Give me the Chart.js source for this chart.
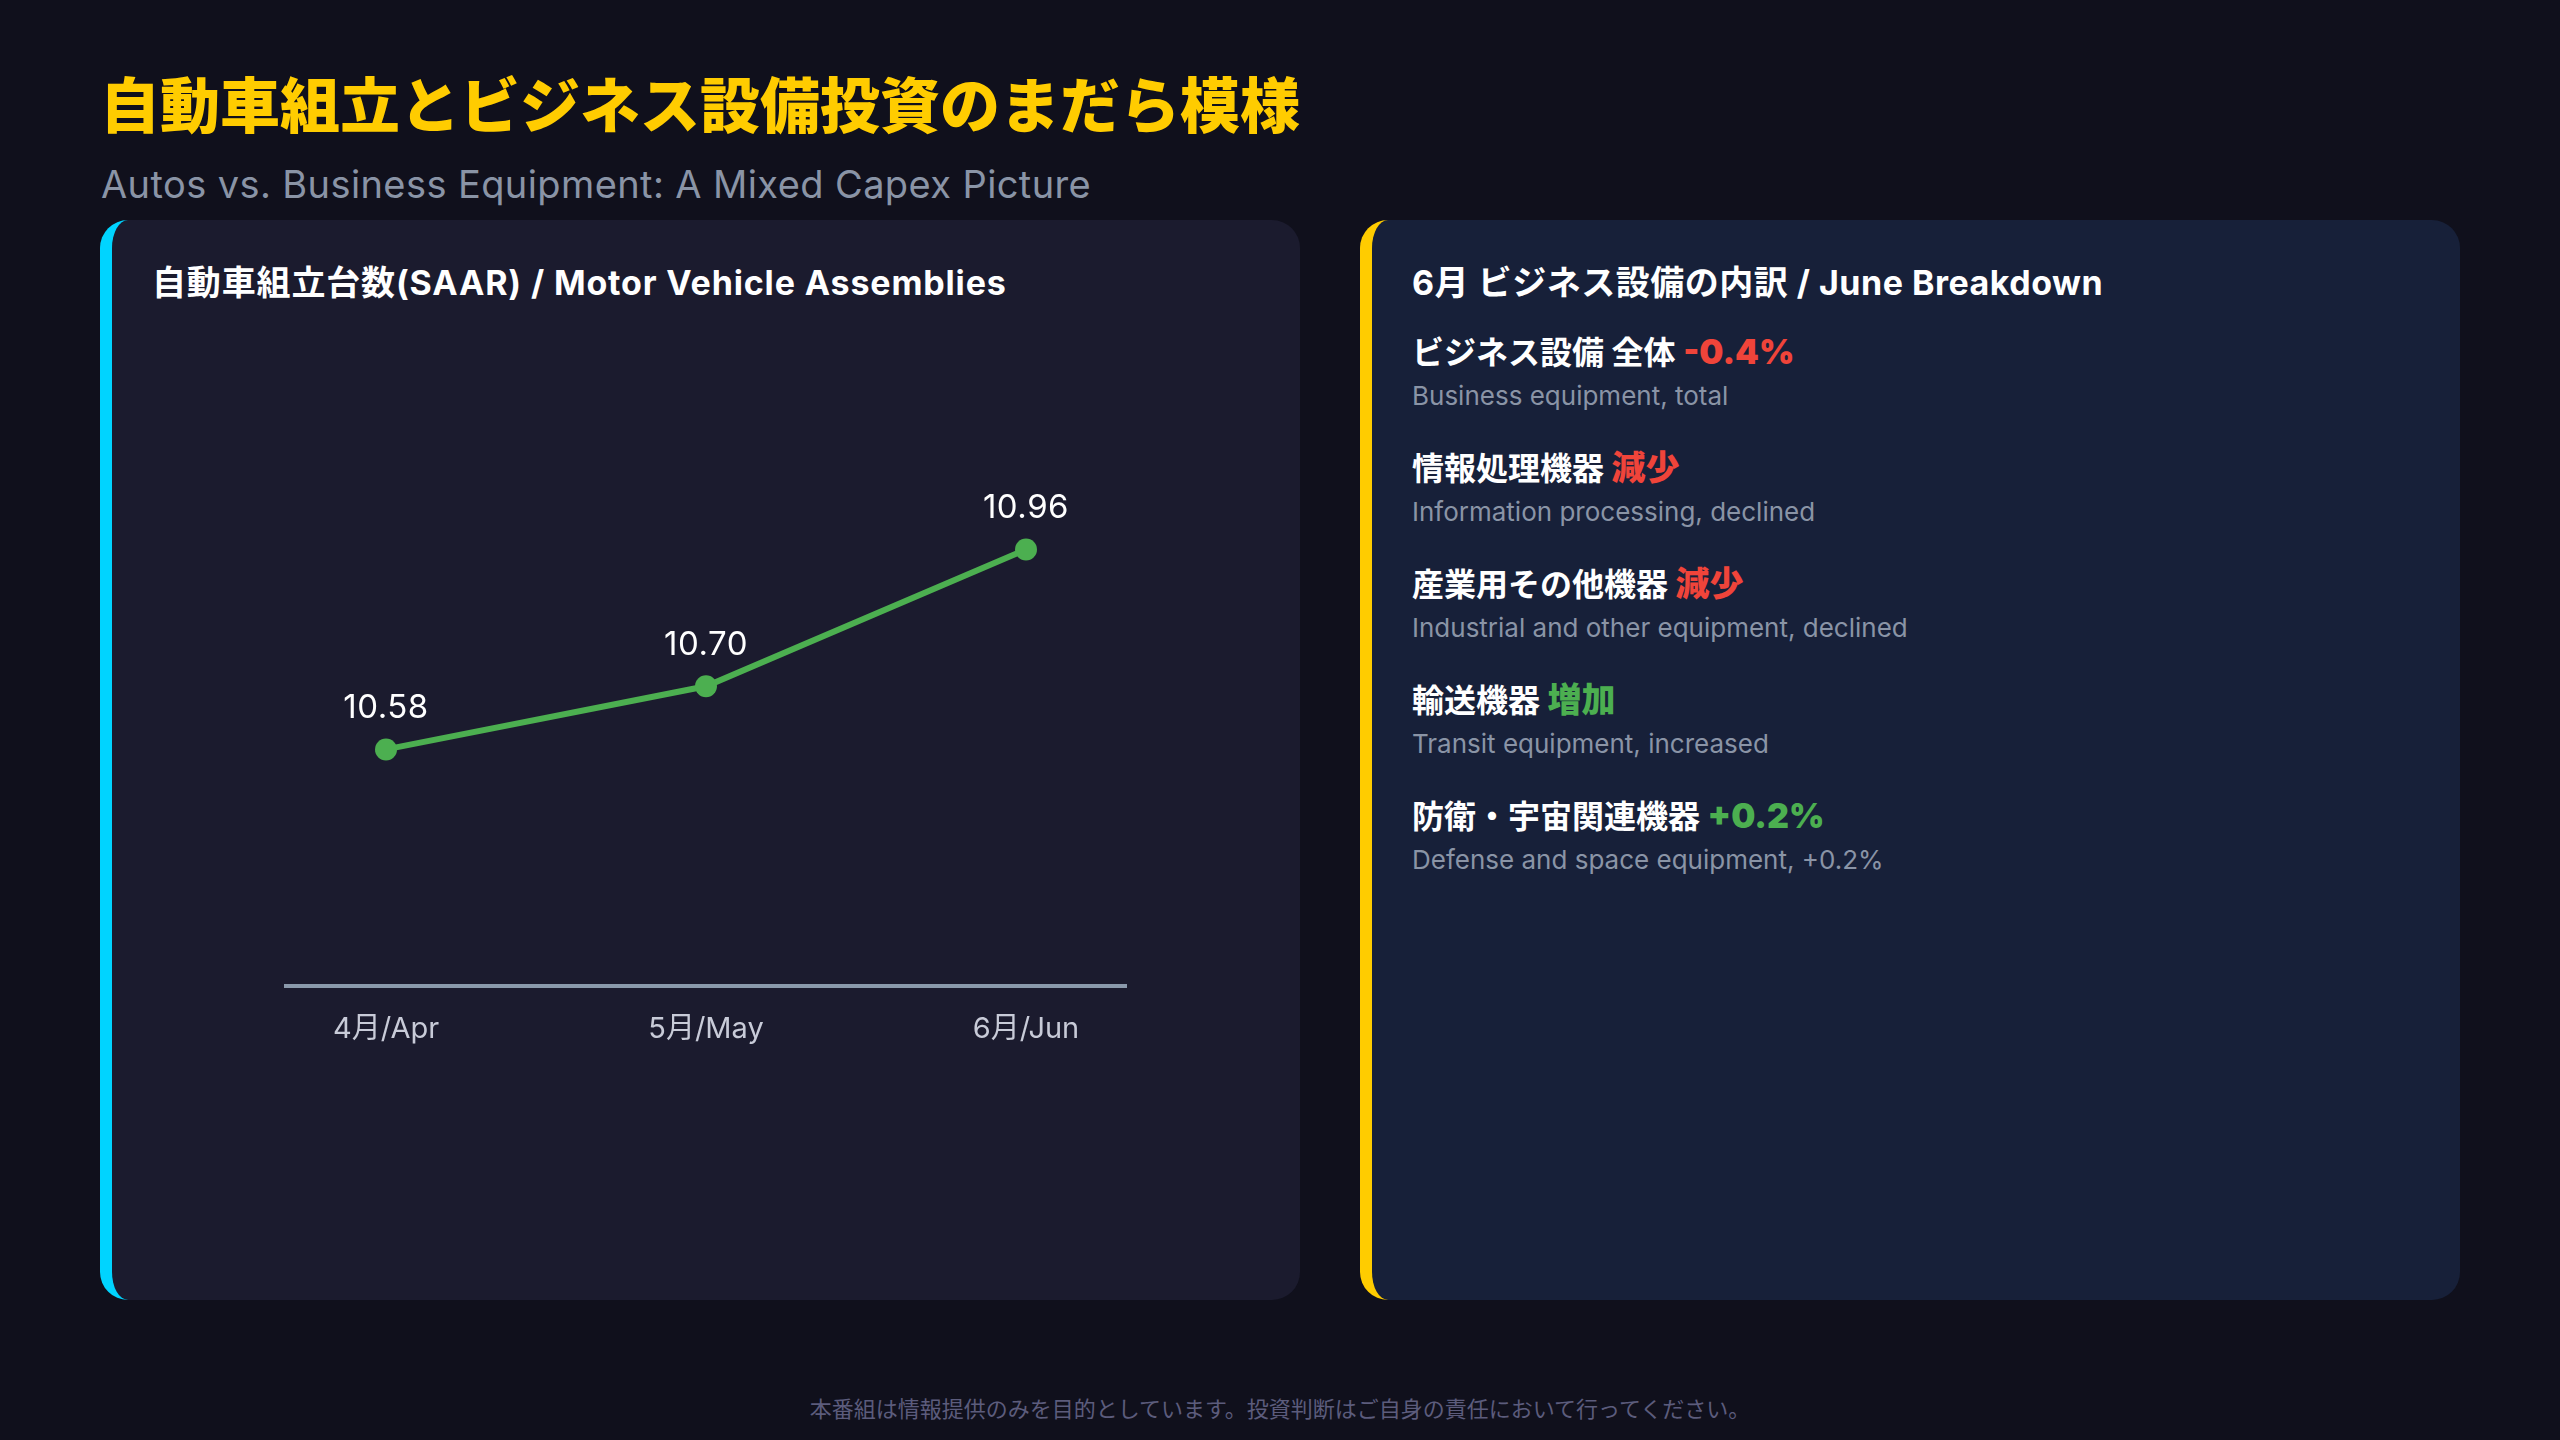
<!DOCTYPE html>
<html lang="ja">
<head>
<meta charset="utf-8">
<script src="https://cdn.jsdelivr.net/npm/chart.js@4.4.1/dist/chart.umd.min.js"></script>
<style>
  html, body { margin:0; padding:0; }
  body {
    width:2560px; height:1440px; position:relative; overflow:hidden;
    background:#10101c;
    font-family:Inter, "Noto Sans CJK JP", sans-serif;
  }
  .title {
    position:absolute; left:100px; top:72px;
    font:900 60px/1 "Noto Sans CJK JP", sans-serif;
    color:#ffcc00; white-space:nowrap;
  }
  .subtitle {
    position:absolute; left:101px; top:165px;
    font:400 38px/1 Inter, "Noto Sans CJK JP", sans-serif;
    letter-spacing:0.4px;
    color:#8a94a6; white-space:nowrap;
  }
  .card {
    position:absolute; top:220px; height:1080px; box-sizing:border-box;
    border-radius:28px; padding-left:40px;
  }
  .card.left { left:100px; width:1200px; background:#1b1b2e; border-left:12px solid #00d4ff; }
  .card.right { left:1360px; width:1100px; background:#172039; border-left:12px solid #ffcc00; }
  .card h2 {
    position:absolute; left:40px; top:46px; margin:0;
    font:700 34px/1 Inter, "Noto Sans CJK JP", sans-serif;
    letter-spacing:0.5px;
    color:#ffffff; white-space:nowrap;
  }
  .card.left h2 { letter-spacing:0.85px; }
  .chartbox { position:absolute; left:0; top:100px; width:1188px; height:753px; }
  .items { position:absolute; left:40px; top:115px; }
  .item { margin-bottom:42px; }
  .item .head {
    height:32px;
    font:700 32px/1 Inter, "Noto Sans CJK JP", sans-serif;
    color:#ffffff; white-space:nowrap;
  }
  .item .head span { font-weight:900; font-size:34px; line-height:1; }
  .item .sub {
    margin-top:16px;
    font:400 26px/1 Inter, "Noto Sans CJK JP", sans-serif;
    color:#8a94a6; white-space:nowrap;
  }
  .footer {
    position:absolute; left:0; width:2560px; top:1396px; text-align:center;
    font:400 22px/1 "Noto Sans CJK JP", sans-serif; color:#5c5c7c;
  }
</style>
</head>
<body>
<div class="title">自動車組立とビジネス設備投資のまだら模様</div>
<div class="subtitle">Autos vs. Business Equipment: A Mixed Capex Picture</div>

<div class="card left">
  <h2>自動車組立台数(SAAR) / Motor Vehicle Assemblies</h2>
  <div class="chartbox"><canvas id="autoChart"></canvas></div>
</div>

<div class="card right">
  <h2>6月 ビジネス設備の内訳 / June Breakdown</h2>
  <div class="items" id="items"></div>
</div>

<div class="footer">本番組は情報提供のみを目的としています。投資判断はご自身の責任において行ってください。</div>

<script>
// motor vehicle assemblies, SAAR (millions)
const months = ["4月/Apr", "5月/May", "6月/Jun"];
const assemblies = [10.58, 10.70, 10.96];

// June business equipment breakdown
const segmentsJa = ["ビジネス設備 全体", "情報処理機器", "産業用その他機器", "輸送機器", "防衛・宇宙関連機器"];
const segmentsTag = ["-0.4%", "減少", "減少", "増加", "+0.2%"];
const segmentsUp = [false, false, false, true, true];
const segmentsEn = [
  "Business equipment, total",
  "Information processing, declined",
  "Industrial and other equipment, declined",
  "Transit equipment, increased",
  "Defense and space equipment, +0.2%"
];

const RED = "#f0443a";
const GREEN = "#4caf50";

const itemsEl = document.getElementById("items");
segmentsJa.forEach((ja, i) => {
  const d = document.createElement("div");
  d.className = "item";
  d.innerHTML =
    '<div class="head">' + ja + ' <span style="color:' + (segmentsUp[i] ? GREEN : RED) + '">' +
    segmentsTag[i] + '</span></div><div class="sub">' + segmentsEn[i] + '</div>';
  itemsEl.appendChild(d);
});

const FONT = "Inter, 'Noto Sans CJK JP', sans-serif";

const valueLabels = {
  id: "valueLabels",
  afterDatasetsDraw(chart) {
    const ctx = chart.ctx;
    const meta = chart.getDatasetMeta(0);
    ctx.save();
    ctx.fillStyle = "#ffffff";
    ctx.font = "400 33px " + FONT;
    ctx.letterSpacing = "0.5px";
    ctx.textAlign = "center";
    ctx.textBaseline = "middle";
    meta.data.forEach((pt, i) => {
      ctx.fillText(assemblies[i].toFixed(2), pt.x, pt.y - 41);
    });
    ctx.restore();
  }
};

new Chart(document.getElementById("autoChart"), {
  type: "line",
  data: {
    datasets: [{
      data: assemblies.map((v, i) => ({ x: i, y: v })),
      borderColor: GREEN,
      backgroundColor: GREEN,
      borderWidth: 6,
      pointRadius: 11,
      pointBackgroundColor: GREEN,
      pointBorderWidth: 0,
      tension: 0,
      clip: false
    }]
  },
  options: {
    responsive: true,
    maintainAspectRatio: false,
    animation: false,
    layout: { padding: { left: 174, right: 174, top: 140, bottom: 0 } },
    plugins: { legend: { display: false }, tooltip: { enabled: false } },
    scales: {
      x: {
        type: "linear",
        min: -0.3125,
        max: 2.3125,
        afterBuildTicks: s => { s.ticks = months.map((_, i) => ({ value: i })); },
        grid: { display: false, drawTicks: false },
        border: { display: true, color: "#8a99ab", width: 4 },
        ticks: {
          color: "#c8cbd8",
          padding: 26,
          font: { family: FONT, size: 29 },
          callback: v => months[v]
        }
      },
      y: {
        display: false,
        min: 10.13,
        max: 11.13
      }
    }
  },
  plugins: [valueLabels]
});
</script>
</body>
</html>
